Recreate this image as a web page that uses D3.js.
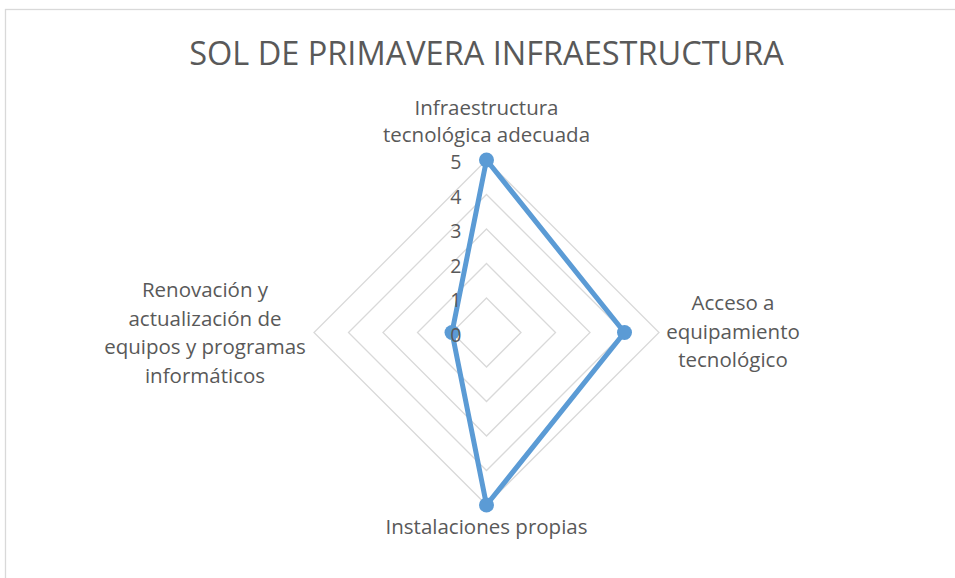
<!DOCTYPE html>
<html>
<head>
<meta charset="utf-8">
<script src="https://cdn.jsdelivr.net/npm/d3@7"></script>
<style>
  body { margin: 0; background: #fff; }
  svg { display: block; font-family: "Open Sans", sans-serif; }
</style>
</head>
<body>
<div id="chart"></div>
<script>
// chart data
var title = "SOL DE PRIMAVERA INFRAESTRUCTURA";
var categories = [
  ["Infraestructura", "tecnológica adecuada"],
  ["Acceso a", "equipamiento", "tecnológico"],
  ["Instalaciones propias"],
  ["Renovación y", "actualización de", "equipos y programas", "informáticos"]
];
var values = [5, 4, 5, 1];
var tickValues = [0, 1, 2, 3, 4, 5];

var WIDTH = 955, HEIGHT = 578;
var CX = 486.5, CY = 332.5, RADIUS = 172.5;
var TEXT_COLOR = "#595959";
var LINE_COLOR = "#5B9BD5";

let svg = d3.select("#chart")
            .append("svg")
              .attr("width", WIDTH)
              .attr("height", HEIGHT);

// outer chart border (continues past the right and bottom edges)
svg.append("rect")
   .attr("x", 5.5).attr("y", 9.5)
   .attr("width", WIDTH).attr("height", HEIGHT)
   .attr("fill", "none")
   .attr("stroke", "#d9d9d9")
   .attr("stroke-width", 1.3);

svg.append("text")
   .attr("x", CX).attr("y", 65)
   .attr("text-anchor", "middle")
   .attr("fill", TEXT_COLOR)
   .style("font-size", "32.5px")
   .text(title);

// radial scale: value -> distance from centre
let rscale = d3.scaleLinear()
               .domain([0, 5])
               .range([0, RADIUS]);

let n = categories.length;
let angle = function (i) { return i * 2 * Math.PI / n; };   // 0 = up, clockwise
let px = function (i, v) { return CX + rscale(v) * Math.sin(angle(i)); };
let py = function (i, v) { return CY - rscale(v) * Math.cos(angle(i)); };

let g = svg.append("g");

// grid rings
g.selectAll(".ring")
 .data(tickValues.slice(1))
 .enter()
 .append("polygon")
   .attr("points", function (t) {
     return d3.range(n).map(function (i) { return px(i, t) + "," + py(i, t); }).join(" ");
   })
   .attr("fill", "none")
   .attr("stroke", "#d9d9d9")
   .attr("stroke-width", 1.3);

// data line
let line = d3.line()
             .x(function (d, i) { return px(i, d); })
             .y(function (d, i) { return py(i, d); })
             .curve(d3.curveLinearClosed);

g.append("path")
 .attr("d", line(values))
 .attr("fill", "none")
 .attr("stroke", LINE_COLOR)
 .attr("stroke-width", 5)
 .attr("stroke-linejoin", "round");

g.selectAll(".dot")
 .data(values)
 .enter()
 .append("circle")
   .attr("cx", function (d, i) { return px(i, d); })
   .attr("cy", function (d, i) { return py(i, d); })
   .attr("r", 7.5)
   .attr("fill", LINE_COLOR);

// tick labels along the top axis (drawn over the series, like the original)
g.selectAll(".tick")
 .data(tickValues)
 .enter()
 .append("text")
   .attr("x", CX - 25)
   .attr("y", function (t) { return CY - rscale(t) + 9; })
   .attr("text-anchor", "end")
   .attr("fill", TEXT_COLOR)
   .style("font-size", "19.5px")
   .text(function (t) { return t; });

// category labels
var labelPos = [
  {x: CX, y: 114.5, lh: 27},
  {x: 733, y: 310, lh: 28.5},
  {x: CX, y: 534, lh: 28.5},
  {x: 205, y: 297, lh: 28.5}
];

g.selectAll(".cat")
 .data(categories)
 .enter()
 .append("text")
   .attr("fill", TEXT_COLOR)
   .attr("text-anchor", "middle")
   .style("font-size", "20.5px")
   .each(function (d, i) {
     let t = d3.select(this);
     d.forEach(function (s, k) {
       t.append("tspan")
        .attr("x", labelPos[i].x)
        .attr("y", labelPos[i].y + k * labelPos[i].lh)
        .text(s);
     });
   });
</script>
</body>
</html>
